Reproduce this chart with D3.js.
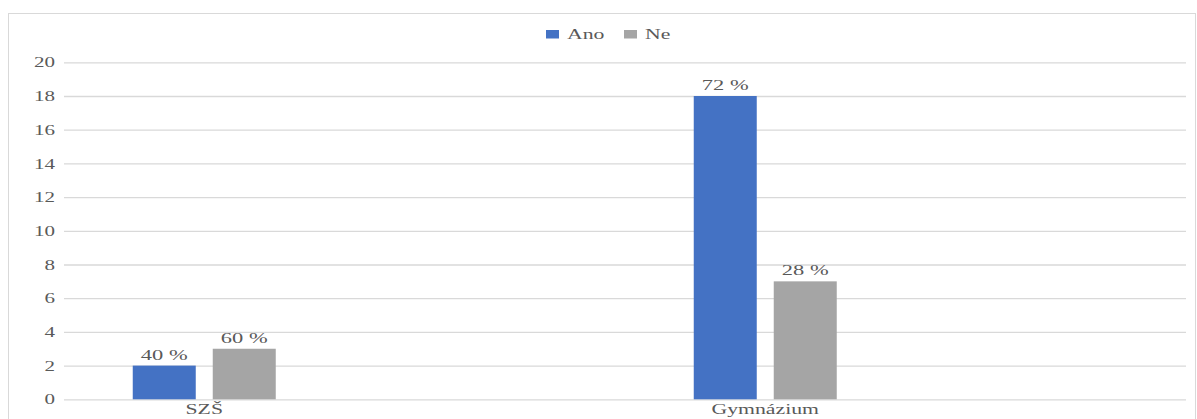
<!DOCTYPE html>
<html>
<head>
<meta charset="utf-8">
<script src="https://cdn.jsdelivr.net/npm/d3@7"></script>
<style>
  html, body { margin: 0; padding: 0; background: #fff; }
  svg text { font-family: "Liberation Serif", "DejaVu Serif", serif !important; }
</style>
</head>
<body>
<svg id="chart" width="1197" height="419"></svg>
<script>
// Categories (two unnamed slots keep the layout spacing)
const categories = ["SZŠ", "", "Gymnázium", ""];
const seriesNames = ["Ano", "Ne"];
const ano = [2, null, 18, null];
const ne = [3, null, 7, null];
const anoLabels = ["40 %", "", "72 %", ""];
const neLabels = ["60 %", "", "28 %", ""];
const yTicks = [0, 2, 4, 6, 8, 10, 12, 14, 16, 18, 20];

const colors = { Ano: "#4472C4", Ne: "#A5A5A5" };
const textColor = "#595959";
const gridColor = "#d9d9d9";
const serif = "Liberation Serif";
const stretch = 1.45; // horizontal text widening

const svg = d3.select("#chart");
const W = 1197, H = 419;
const margin = { left: 64, right: 11, top: 62.3, bottom: 19.7 };
const plotW = W - margin.left - margin.right;
const plotH = H - margin.top - margin.bottom;

// outer frame
svg.append("rect")
  .attr("x", 8.5).attr("y", 13.5)
  .attr("width", 1187).attr("height", 420)
  .attr("fill", "none").attr("stroke", gridColor).attr("stroke-width", 1);

const g = svg.append("g").attr("transform", `translate(${margin.left},${margin.top})`);

const y = d3.scaleLinear().domain([0, 20]).range([plotH, 0]);
const x0 = d3.scaleBand().domain(d3.range(categories.length)).range([0, plotW]).paddingInner(0).paddingOuter(0);
const groupW = 143;
const x1 = d3.scaleBand().domain(seriesNames)
  .range([(x0.bandwidth() - groupW) / 2, (x0.bandwidth() + groupW) / 2])
  .paddingInner(0.2125).paddingOuter(0);

// y axis with gridlines
const yAxis = g.append("g")
  .call(d3.axisLeft(y).tickValues(yTicks).tickSize(-plotW).tickSizeOuter(0).tickPadding(9));
yAxis.attr("font-family", serif);
yAxis.select(".domain").remove();
yAxis.selectAll(".tick line").attr("stroke", gridColor).attr("stroke-width", 1.3);
yAxis.selectAll(".tick text")
  .attr("fill", textColor)
  .attr("font-family", serif)
  .style("font-size", "14.5px")
  .attr("x", -9 / stretch)
  .attr("transform", `scale(${stretch},1)`);

// x axis category labels
const xAxis = g.append("g").attr("transform", `translate(0,${plotH})`)
  .call(d3.axisBottom(x0).tickSize(0).tickPadding(4).tickFormat(i => categories[i]));
xAxis.attr("font-family", serif);
xAxis.select(".domain").remove();
xAxis.selectAll(".tick text")
  .attr("fill", textColor)
  .attr("font-family", serif)
  .style("font-size", "15px")
  .attr("transform", `scale(${stretch},1)`);

// bars
const rows = categories.map((c, i) => ({
  i,
  vals: [
    { key: "Ano", v: ano[i], label: anoLabels[i] },
    { key: "Ne", v: ne[i], label: neLabels[i] }
  ]
}));

const groups = g.selectAll(".grp").data(rows).join("g")
  .attr("class", "grp")
  .attr("transform", d => `translate(${x0(d.i)},0)`);

groups.selectAll("rect").data(d => d.vals.filter(v => v.v != null)).join("rect")
  .attr("x", d => x1(d.key))
  .attr("y", d => y(d.v))
  .attr("width", x1.bandwidth())
  .attr("height", d => plotH - y(d.v))
  .attr("fill", d => colors[d.key]);

groups.selectAll("text.lbl").data(d => d.vals.filter(v => v.v != null)).join("text")
  .attr("class", "lbl")
  .attr("text-anchor", "middle")
  .attr("fill", textColor)
  .attr("font-family", serif)
  .style("font-size", "15.5px")
  .attr("transform", d => `translate(${x1(d.key) + x1.bandwidth() / 2},${y(d.v) - 6}) scale(${stretch},1)`)
  .text(d => d.label);

// legend
const legend = svg.append("g");
const legendItems = [
  { key: "Ano", x: 546 },
  { key: "Ne", x: 624 }
];
legendItems.forEach(it => {
  legend.append("rect")
    .attr("x", it.x).attr("y", 30)
    .attr("width", 13).attr("height", 8.5)
    .attr("fill", colors[it.key]);
  legend.append("text")
    .attr("fill", textColor)
    .attr("font-family", serif)
    .style("font-size", "15px")
    .attr("transform", `translate(${it.x + 21},38.5) scale(${stretch},1)`)
    .text(it.key);
});
</script>
</body>
</html>
